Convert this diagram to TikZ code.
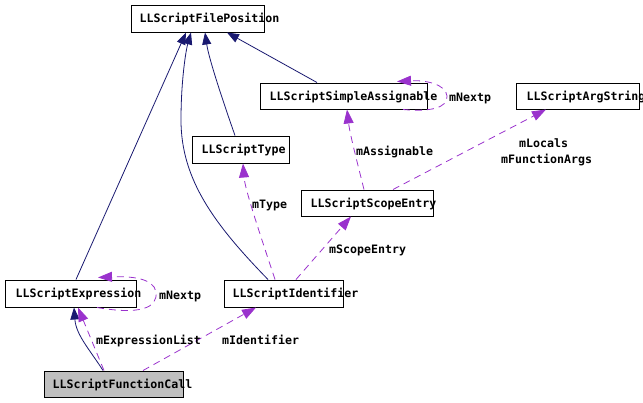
\documentclass[tikz,border=0pt]{standalone}
\usepackage{fontspec}
\setmonofont{DejaVu Sans Mono}
\usetikzlibrary{arrows.meta,calc}
\definecolor{inh}{HTML}{191970}
\definecolor{usr}{HTML}{9A32CD}
\tikzset{
  box/.style={draw=black, line width=1pt, fill=white, inner sep=0pt},
  txt/.style={anchor=base west, inner sep=0pt, font=\fontsize{11.6}{12}\selectfont\ttfamily\bfseries},
  inhedge/.style={draw=inh, line width=0.8pt, -{Triangle[length=12pt,width=9pt]}},
  usedge/.style={draw=usr, line width=0.8pt, dash pattern=on 7pt off 5pt, -{Triangle[length=14pt,width=10pt]}},
}
\begin{document}
\begin{tikzpicture}[x=1pt,y=-1pt]
\useasboundingbox (0,0) rectangle (643,402);
% boxes
\node[box, minimum width=133, minimum height=27] (fp) at (197.5,18.5) {};
\node[box, minimum width=167, minimum height=26] (sa) at (343.5,96) {};
\node[box, minimum width=123, minimum height=26] (as) at (577.5,96) {};
\node[box, minimum width=97, minimum height=27] (ty) at (240.5,149.5) {};
\node[box, minimum width=132, minimum height=26] (se) at (367,203) {};
\node[box, minimum width=131, minimum height=27] (ex) at (70.5,293.5) {};
\node[box, minimum width=119, minimum height=27] (id) at (283.5,293.5) {};
\node[box, fill={rgb,255:red,191;green,191;blue,191}, minimum width=139, minimum height=26] (fc) at (113.5,384) {};
% inheritance edges
\draw[inhedge] ([xshift=5.5]ex.north) -- ([xshift=-11.5]fp.south);
\draw[inhedge] ([xshift=-15.5]id.north) .. controls (215,225) and (181,180) .. (181,120) .. controls (181,80) and (186,50) .. ([xshift=-6.5]fp.south);
\draw[inhedge] ([xshift=-5.5]ty.north) .. controls (226,110) and (209,60) .. ([xshift=7.5]fp.south);
\draw[inhedge] ([xshift=-26.5]sa.north) -- ([xshift=29.5]fp.south);
\draw[inhedge] ([xshift=-10.5]fc.north) .. controls (90,350) and (76,335) .. ([xshift=3.5]ex.south);
% usage edges
\draw[usedge] ([xshift=-9.5]fc.north) -- ([xshift=7.5]ex.south);
\draw[usedge] ([xshift=29.5]fc.north) -- ([xshift=-27.5]id.south);
\draw[usedge] ([xshift=26.5]ex.south) .. controls (140,315) and (158,308) .. (156,292) .. controls (154,278) and (130,276) .. ([xshift=27.5,yshift=2]ex.north);
\draw[usedge] ([xshift=59.5]sa.south) .. controls (430,112) and (448,108) .. (447,96) .. controls (446,84) and (425,80) .. ([xshift=53.5,yshift=1]sa.north);
\draw[usedge] ([xshift=-3]se.north) .. controls (358,165) and (350,135) .. ([xshift=3.5]sa.south);
\draw[usedge] ([xshift=26]se.north) -- ([xshift=-31.5]as.south);
\draw[usedge] ([xshift=-8.5]id.north) .. controls (262,240) and (245,190) .. ([xshift=2.5]ty.south);
\draw[usedge] ([xshift=12.5]id.north) -- ([xshift=-16]se.south);
% box texts
\node[txt] (fpT) at ($(fp.west)+(9,4)$) {LLScriptFilePosition};
\node[txt] (saT) at ($(sa.west)+(10,4)$) {LLScriptSimpleAssignable};
\node[txt] (asT) at ($(as.west)+(11,4)$) {LLScriptArgString};
\node[txt] (tyT) at ($(ty.west)+(10,4)$) {LLScriptType};
\node[txt] (seT) at ($(se.west)+(10,4)$) {LLScriptScopeEntry};
\node[txt] (exT) at ($(ex.west)+(11,4)$) {LLScriptExpression};
\node[txt] (idT) at ($(id.west)+(9,4)$) {LLScriptIdentifier};
\node[txt] (fcT) at ($(fc.west)+(9,4)$) {LLScriptFunctionCall};
% edge labels
\node[txt] (l1) at (449,101) {mNextp};
\node[txt] (l2) at (356,155) {mAssignable};
\node[txt] (l3) at (519,147) {mLocals};
\node[txt] (l4) at (501,163) {mFunctionArgs};
\node[txt] (l5) at (252,208) {mType};
\node[txt] (l6) at (329,253) {mScopeEntry};
\node[txt] (l7) at (159,299) {mNextp};
\node[txt] (l8) at (96,344) {mExpressionList};
\node[txt] (l9) at (222,344) {mIdentifier};
\end{tikzpicture}
\end{document}
